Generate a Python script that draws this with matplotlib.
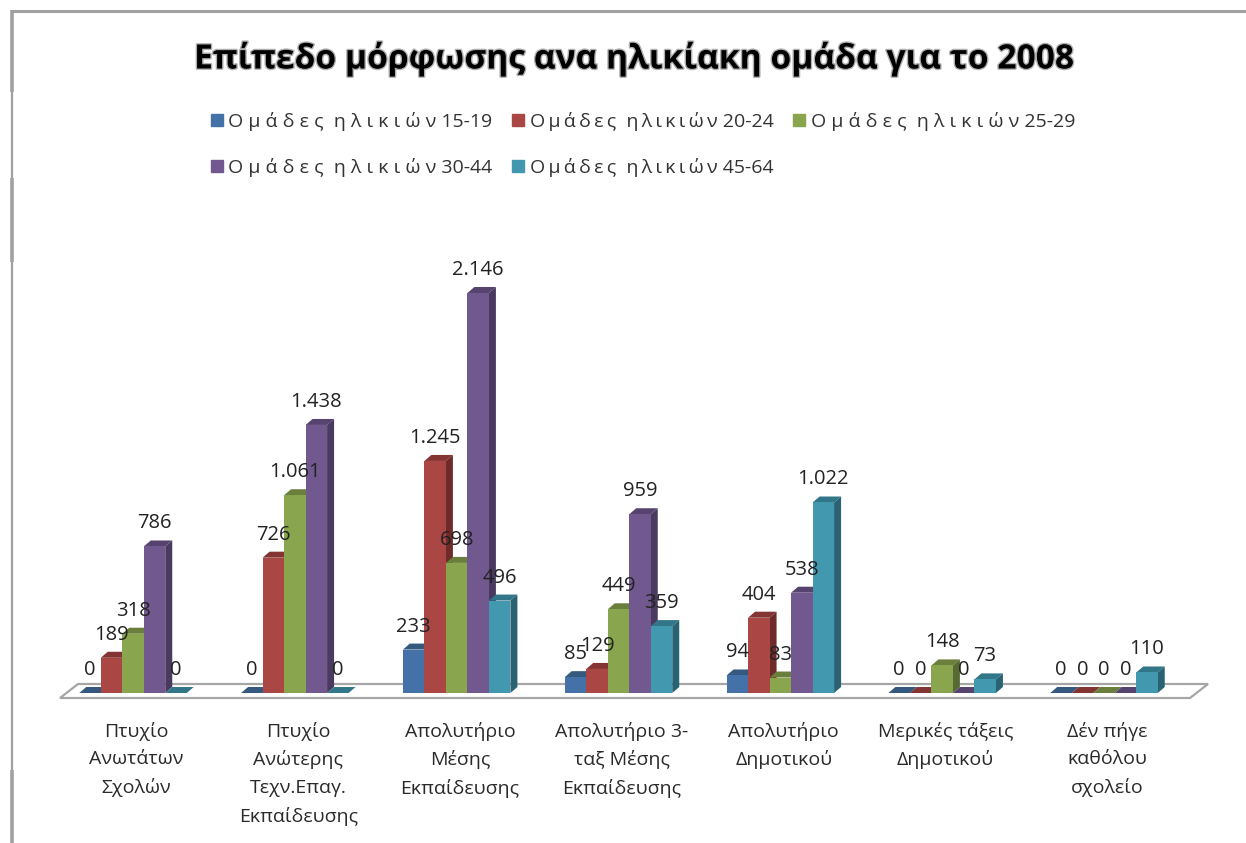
import matplotlib
matplotlib.use('Agg')
import matplotlib.pyplot as plt
import matplotlib.patheffects as pe
from matplotlib.lines import Line2D
from matplotlib.patches import Rectangle

categories = ['Πτυχίο\nΑνωτάτων\nΣχολών', 'Πτυχίο\nΑνώτερης\nΤεχν.Επαγ.\nΕκπαίδευσης',
              'Απολυτήριο\nΜέσης\nΕκπαίδευσης', 'Απολυτήριο 3-\nταξ Μέσης\nΕκπαίδευσης',
              'Απολυτήριο\nΔημοτικού', 'Μερικές τάξεις\nΔημοτικού', 'Δέν πήγε\nκαθόλου\nσχολείο']
age_15_19 = [0, 0, 233, 85, 94, 0, 0]
age_20_24 = [189, 726, 1245, 129, 404, 0, 0]
age_25_29 = [318, 1061, 698, 449, 83, 148, 0]
age_30_44 = [786, 1438, 2146, 959, 538, 0, 0]
age_45_64 = [0, 0, 496, 359, 1022, 73, 110]

series = [age_15_19, age_20_24, age_25_29, age_30_44, age_45_64]
# the middle legend column is set tighter in the original, hence the thin spaces
names = ['Ο μ ά δ ε ς  η λ ι κ ι ώ ν 15-19',
         'Ο\u2009μ\u2009ά\u2009δ\u2009ε\u2009ς  η\u2009λ\u2009ι\u2009κ\u2009ι\u2009ώ\u2009ν 20-24',
         'Ο μ ά δ ε ς  η λ ι κ ι ώ ν 25-29',
         'Ο μ ά δ ε ς  η λ ι κ ι ώ ν 30-44',
         'Ο\u2009μ\u2009ά\u2009δ\u2009ε\u2009ς  η\u2009λ\u2009ι\u2009κ\u2009ι\u2009ώ\u2009ν 45-64']
front_colors = ['#4472A8', '#AA4643', '#89A54E', '#71588F', '#4198AF']
top_colors = ['#35587F', '#843432', '#6A7F3B', '#574370', '#317689']
side_colors = ['#2D4B6E', '#6F2B2A', '#586A31', '#4A3A60', '#296273']

W, H = 1246, 843
plt.rcParams['font.family'] = ['Open Sans', 'DejaVu Sans']
fig = plt.figure(figsize=(W / 100, H / 100), dpi=100)

# pixel scale of the plot area: one category = 161.8 px, one unit = 0.1864 px
px_x = 161.83
px_y = 0.1864
ax = fig.add_axes([60 / W, 1 - 700 / H, 1150 / W, 470 / H])
ax.set_xlim((60 - 133) / px_x, (1210 - 133) / px_x)
ax.set_ylim(-7 / px_y, 463 / px_y)
for s in ax.spines.values():
    s.set_visible(False)

bar_w = 21.5 / px_x
dx = 7 / px_x
dy = 6 / px_y

# floor of the 3d chart
fx0, fx1, skew = -73 / px_x, 1057 / px_x, 18 / px_x
ax.fill([fx0, fx1, fx1 + skew, fx0 + skew], [-5 / px_y, -5 / px_y, 9 / px_y, 9 / px_y],
        facecolor='white', edgecolor='#A6A6A6', linewidth=1.6, clip_on=False, zorder=1)

handles = []
for i, vals in enumerate(series):
    z = 2 + i
    xs = [c + (i - 2) * bar_w for c in range(len(categories))]
    ax.bar(xs, vals, width=bar_w, color=front_colors[i], zorder=z + 0.5, label=names[i])
    handles.append(Rectangle((0, 0), 1, 1, color=front_colors[i]))
    for x, v in zip(xs, vals):
        l, r = x - bar_w / 2, x + bar_w / 2
        ax.fill([l, r, r + dx, l + dx], [v, v, v + dy, v + dy], color=top_colors[i], lw=0, zorder=z + 0.3)
        if v > 0:
            ax.fill([r, r + dx, r + dx, r], [0, dy, v + dy, v], color=side_colors[i], lw=0, zorder=z + 0.3)
        ax.annotate(f'{v:,}'.replace(',', '.'), (x, v), xytext=(0, 23 * 0.72), textcoords='offset points',
                    ha='center', va='center', fontsize=14.5, color='#222222', zorder=20, annotation_clip=False)

ax.set_yticks([])
ax.set_xticks([c + 3.5 / px_x for c in range(len(categories))])
ax.set_xticklabels(categories, fontsize=14, color='#2A2A2A', linespacing=1.66)
ax.tick_params(axis='x', length=0, pad=15.5)

title = fig.text(634 / W, 1 - 59 / H, 'Επίπεδο μόρφωσης ανα ηλικίακη ομάδα για το 2008', ha='center', va='center',
                 fontsize=24.2, fontweight='bold', color='black')
title.set_path_effects([pe.withStroke(linewidth=2, foreground='#B0B0B0')])

# columns fill first, so this order gives rows 1-2-3 / 4-5
order = [0, 3, 1, 4, 2]
fig.legend([handles[k] for k in order], [names[k] for k in order], ncol=3, frameon=False,
           loc='upper left', bbox_to_anchor=(211 / W, 1 - 112 / H), borderaxespad=0, borderpad=0,
           handlelength=0.6, handleheight=0.6, handletextpad=0.3, columnspacing=1.0, labelspacing=1.38,
           fontsize=14, labelcolor='#333333')

# grey frame around the chart, the left side changes width along its length
fig.add_artist(Line2D([11.5 / W, 1], [1 - 11 / H, 1 - 11 / H], color='#A0A0A0', lw=2.2))
for y0, y1, lw in [(10, 92, 2.6), (92, 178, 1.6), (178, 262, 2.6), (262, 770, 1.6), (770, 843, 2.6)]:
    fig.add_artist(Line2D([11.5 / W, 11.5 / W], [1 - y0 / H, 1 - y1 / H], color='#A0A0A0', lw=lw,
                          solid_capstyle='butt'))

fig.savefig('out.png', dpi=100)
plt.close()
